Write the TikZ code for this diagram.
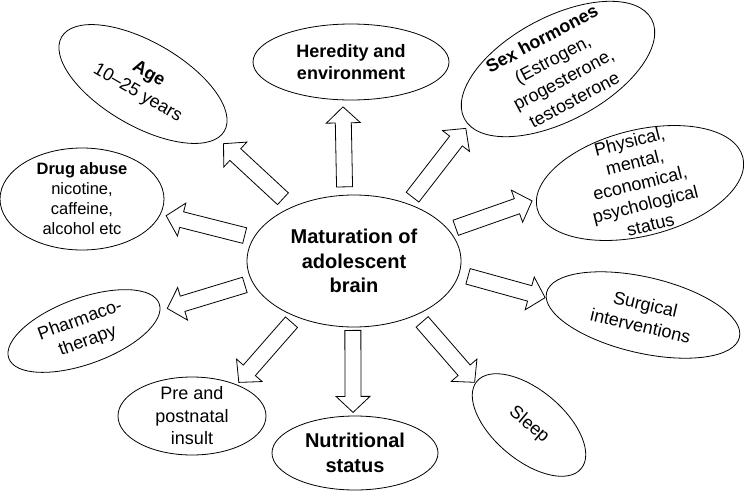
\documentclass[tikz,border=0pt]{standalone}
\usepackage{fontspec}
\setmainfont{Liberation Sans}
\usetikzlibrary{shapes,calc}

\begin{document}
\begin{tikzpicture}[x=1pt, y=1pt, line width=0.8pt,
    oval/.style={draw, ellipse, inner sep=0pt, align=center},
    fat/.style 2 args={draw, fill=white, to path={
      let \p1=($(\tikztostart)!#1!(\tikztotarget)$),
          \p2=($(\p1)!#2!(\tikztotarget)$),
          \p3=($(\p2)!16pt!(\p1)$) in
      ($(\p1)!8pt!90:(\p2)$) -- ($(\p3)!8pt!-90:(\p1)$) -- ($(\p3)!17pt!-90:(\p1)$)
      -- (\p2) -- ($(\p3)!17pt!90:(\p1)$) -- ($(\p3)!8pt!90:(\p1)$)
      -- ($(\p1)!8pt!-90:(\p2)$) -- cycle}}]
  \tikzstyle{word} = [font=\fontsize{18}{22}\selectfont]
  \tikzstyle{boldword} = [font=\bfseries\fontsize{20}{24.5}\selectfont]
  \useasboundingbox (0,0) rectangle (744,-493);

  % centre
  \node (brain) [oval, boldword, minimum width=214pt, minimum height=132pt] at (354,-261)
    {Maturation of\\adolescent\\brain};

  % factors
  \node (age) [oval, word, rotate=-30, minimum width=188pt, minimum height=84pt] at (143,-84)
    {{\bfseries Age}\\10--25 years};
  \node (heredity) [oval, font=\bfseries\fontsize{18}{22}\selectfont, minimum width=196pt, minimum height=76pt] at (351,-62)
    {Heredity and\\environment};
  \node (hormones) [oval, font=\fontsize{18}{23}\selectfont, inner ysep=-8pt, rotate=28,
    minimum width=212pt, minimum height=104pt] at (558,-69)
    {{\bfseries Sex hormones}\\(Estrogen,\\progesterone,\\testosterone};
  \node (status) [oval, font=\fontsize{18}{21.5}\selectfont, inner ysep=-14pt, rotate=14,
    minimum width=212pt, minimum height=106pt] at (640,-183)
    {Physical,\\mental,\\economical,\\psychological\\status};
  \node (surgery) [oval, word, rotate=-13, minimum width=198pt, minimum height=76pt] at (643,-315)
    {Surgical\\interventions};
  \node (sleep) [oval, word, rotate=-40, minimum width=136pt, minimum height=70pt] at (529,-425)
    {Sleep};
  \node (nutrition) [oval, boldword, minimum width=166pt, minimum height=74pt] at (355,-453)
    {Nutritional\\status};
  \node (insult) [oval, font=\fontsize{18}{22.5}\selectfont, inner ysep=-4pt,
    minimum width=148pt, minimum height=78pt] at (192,-416)
    {Pre and\\postnatal\\insult};
  \node (pharma) [oval, word, rotate=20, minimum width=160pt, minimum height=66pt] at (84,-331)
    {Pharmaco-\\therapy};
  \node (drug) [oval, font=\fontsize{16.5}{20}\selectfont, inner ysep=-3pt,
    minimum width=164pt, minimum height=102pt] at (82,-199)
    {{\bfseries Drug abuse}\\nicotine,\\caffeine,\\alcohol etc};

  % block arrows
  \draw[fat={12pt}{81pt}] (brain.139) to (age.-6);
  \draw[fat={8pt}{80pt}] (brain.98) to (heredity.-102);
  \draw[fat={8pt}{87pt}] (brain.47) to (hormones.184);
  \draw[fat={7pt}{81pt}] (brain.18) to (status.175);
  \draw[fat={9pt}{80pt}] (brain.-7) to (surgery.183);
  \draw[fat={9pt}{80pt}] (brain.-41) to (sleep.182);
  \draw[fat={3pt}{82pt}] (brain.-91) to (nutrition.93);
  \draw[fat={7pt}{80pt}] (brain.-136) to (insult.35);
  \draw[fat={8pt}{81pt}] (brain.192) to (pharma.-5);
  \draw[fat={9pt}{81pt}] (brain.167) to (drug.-11);
\end{tikzpicture}
\end{document}
